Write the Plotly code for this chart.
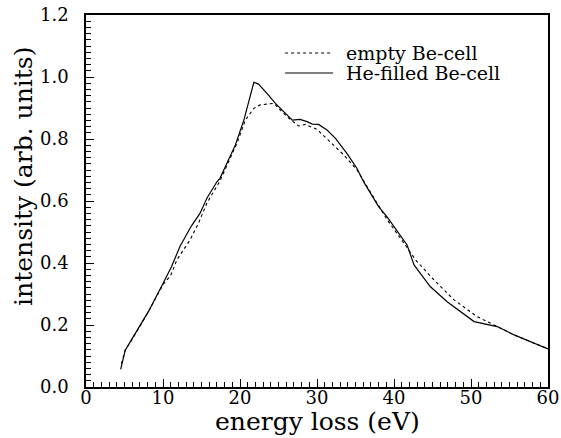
import plotly.graph_objects as go

# Data
empty_x = [4.6, 5.1, 5.9, 8.1, 10.0, 11.0, 11.8, 13.5, 14.6, 15.7, 17.4, 19.6, 20.7, 21.8,
           22.6, 24.4, 26.1, 27.6, 28.5, 30.0, 31.7, 33.5, 35.2, 38.0, 39.1, 41.3, 42.8,
           45.2, 47.8, 50.8, 53.0, 55.6, 58.2, 60.0]
empty_y = [0.075, 0.12, 0.15, 0.243, 0.330, 0.360, 0.410, 0.474, 0.528, 0.593, 0.665, 0.786,
           0.861, 0.899, 0.910, 0.915, 0.872, 0.842, 0.847, 0.831, 0.791, 0.748, 0.700, 0.582,
           0.540, 0.464, 0.410, 0.345, 0.281, 0.227, 0.200, 0.168, 0.141, 0.123]

he_x = [4.5, 5.1, 5.9, 8.1, 10.0, 11.1, 12.2, 13.7, 14.8, 15.7, 17.0, 17.4, 19.4, 20.5, 21.8,
        22.4, 23.5, 24.6, 26.8, 27.8, 28.7, 29.4, 30.2, 31.3, 32.4, 33.9, 35.2, 36.1, 38.0,
        39.1, 41.7, 42.6, 44.7, 46.9, 50.4, 53.4, 55.6, 58.2, 60.0]
he_y = [0.057, 0.119, 0.152, 0.243, 0.334, 0.388, 0.453, 0.520, 0.560, 0.609, 0.662, 0.673,
        0.781, 0.861, 0.983, 0.977, 0.947, 0.915, 0.861, 0.863, 0.856, 0.848, 0.847, 0.829,
        0.802, 0.753, 0.705, 0.660, 0.582, 0.549, 0.458, 0.394, 0.324, 0.275, 0.211, 0.195,
        0.168, 0.141, 0.123]

series_names = ["empty Be-cell", "He-filled Be-cell"]
series_dash = ["3px,3px", "solid"]
x_title = "energy loss (eV)"
y_title = "intensity (arb. units)"

FONT = "DejaVu Serif"

fig = go.Figure()
fig.add_trace(go.Scatter(x=empty_x, y=empty_y, mode="lines", name=series_names[0],
                         showlegend=False,
                         line=dict(color="black", width=1.1, dash=series_dash[0])))
fig.add_trace(go.Scatter(x=he_x, y=he_y, mode="lines", name=series_names[1],
                         showlegend=False,
                         line=dict(color="black", width=1.2, dash=series_dash[1])))

axis_common = dict(showgrid=False, zeroline=False, showline=True, linecolor="black",
                   linewidth=1.5, mirror=True, ticks="inside", ticklen=8, tickwidth=1,
                   tickcolor="black", automargin=False, ticklabeloverflow="allow",
                   tickfont=dict(family=FONT, size=18, color="black"))

fig.update_xaxes(range=[0, 60], tick0=0, dtick=10,
                 minor=dict(ticks="inside", dtick=1, ticklen=5, tickcolor="black", tickwidth=1),
                 ticklabelstandoff=-6,
                 **axis_common)
fig.update_yaxes(range=[0, 1.2], tick0=0, dtick=0.2, tickformat=".1f",
                 minor=dict(ticks="inside", dtick=0.02, ticklen=5, tickcolor="black", tickwidth=1),
                 ticklabelstandoff=12,
                 **axis_common)

# Axis titles
fig.add_annotation(text=x_title, xref="paper", yref="paper", x=0.5, y=-0.094,
                   xanchor="center", yanchor="middle", showarrow=False,
                   font=dict(family=FONT, size=25, color="black"))
fig.add_annotation(text=y_title, xref="paper", yref="paper", x=-0.134, y=0.565,
                   xanchor="center", yanchor="middle", showarrow=False, textangle=-90,
                   font=dict(family=FONT, size=25, color="black"))

# Legend (line samples + labels)
leg_y = [0.898, 0.844]
for name, dash, ly in zip(series_names, series_dash, leg_y):
    fig.add_shape(type="line", xref="paper", yref="paper", x0=0.431, x1=0.535, y0=ly, y1=ly,
                  line=dict(color="black", width=1.1, dash=dash))
    fig.add_annotation(text=name, xref="paper", yref="paper", x=0.558, y=ly,
                       xanchor="left", yanchor="middle", showarrow=False,
                       font=dict(family=FONT, size=19, color="black"))

fig.update_layout(
    width=561, height=438,
    margin=dict(l=86, r=13, t=15, b=51),
    paper_bgcolor="white", plot_bgcolor="white",
    showlegend=False,
)

# Remove the default page margin so the figure fills the window exactly.
fig.write_html("out.html", config={"displayModeBar": False},
               post_script="document.body.style.margin='0';")
